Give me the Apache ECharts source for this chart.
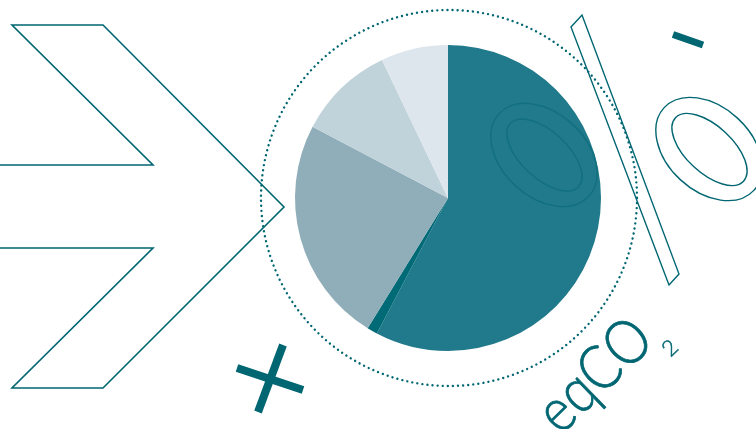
<!DOCTYPE html>
<html>
<head>
<meta charset="utf-8">
<script src="https://cdn.jsdelivr.net/npm/echarts@6/dist/echarts.min.js"></script>
<style>
  html, body { margin: 0; padding: 0; background: #ffffff; }
  #chart { width: 756px; height: 429px; }
</style>
</head>
<body>
<div id="chart"></div>
<script>
// Data (shares in %, clockwise from 12 o'clock)
var categories = ['Part 1', 'Part 2', 'Part 3', 'Part 4', 'Part 5'];
var shareValues = [57.7, 1.1, 23.9, 10.2, 7.1];
var textMain = 'eqCO';
var textSub = '2';

var palette = ['#217a8b', '#006a77', '#90aeb9', '#c1d3da', '#dde6ec'];
var ink = '#006672';

var pieData = categories.map(function (c, i) {
  return { name: c, value: shareValues[i], itemStyle: { color: palette[i] } };
});

var chart = echarts.init(document.getElementById('chart'), null, { renderer: 'canvas' });

var option = {
  backgroundColor: '#ffffff',
  animation: false,
  series: [{
    type: 'pie',
    center: [448, 198],
    radius: 153,
    startAngle: 90,
    clockwise: true,
    label: { show: false },
    labelLine: { show: false },
    emphasis: { disabled: true },
    silent: true,
    itemStyle: { borderWidth: 0 },
    data: pieData
  }],
  graphic: [
    // dotted ring
    { type: 'circle', shape: { cx: 449, cy: 198, r: 188 }, z: 1,
      style: { fill: 'none', stroke: ink, lineWidth: 2.4, lineDash: [0.01, 5.1], lineCap: 'round' } },
    // chevron outline
    { type: 'polyline', z: 5,
      shape: { points: [[0,165],[153,165],[12,25],[103,25],[284,207],[103,388],[12,388],[153,248],[0,248]] },
      style: { fill: 'none', stroke: ink, lineWidth: 1.6, lineJoin: 'miter' } },
    // plus sign (tilted)
    { type: 'line', z: 5, shape: { x1: 237, y1: 368, x2: 303, y2: 390 },
      style: { stroke: ink, lineWidth: 8, lineCap: 'butt' } },
    { type: 'line', z: 5, shape: { x1: 283, y1: 345, x2: 258, y2: 412 },
      style: { stroke: ink, lineWidth: 8, lineCap: 'butt' } },
    // minus sign
    { type: 'line', z: 5, shape: { x1: 673, y1: 34.5, x2: 703, y2: 45 },
      style: { stroke: ink, lineWidth: 7, lineCap: 'butt' } },
    // percent slash
    { type: 'polygon', z: 5,
      shape: { points: [[571,27],[582,15],[679,274],[669,285]] },
      style: { fill: 'none', stroke: ink, lineWidth: 1.4 } },
    // ellipses on the pie
    { type: 'ellipse', z: 10, x: 544, y: 155, rotation: -0.745,
      shape: { cx: 0, cy: 0, rx: 61, ry: 42 },
      style: { fill: 'none', stroke: '#12707e', lineWidth: 1.5 } },
    { type: 'ellipse', z: 10, x: 544.5, y: 155, rotation: -0.75,
      shape: { cx: 0, cy: 0, rx: 46.5, ry: 23.3 },
      style: { fill: 'none', stroke: '#12707e', lineWidth: 1.5 } },
    // ellipses on the right
    { type: 'ellipse', z: 10, x: 709, y: 149, rotation: -0.745,
      shape: { cx: 0, cy: 0, rx: 61, ry: 42 },
      style: { fill: 'none', stroke: ink, lineWidth: 1.4 } },
    { type: 'ellipse', z: 10, x: 709.5, y: 149.5, rotation: -0.75,
      shape: { cx: 0, cy: 0, rx: 46.5, ry: 23.3 },
      style: { fill: 'none', stroke: ink, lineWidth: 1.4 } },
    // eqCO2 text
    { type: 'group', x: 627, y: 344, rotation: 0.77, z: 10,
      children: [
        { type: 'text', x: 22, y: 0, scaleX: 0.95, scaleY: 1.1,
          style: { text: textMain, fill: ink, stroke: ink, lineWidth: 0.7,
                   font: '300 56px Lato, "Open Sans", sans-serif',
                   textAlign: 'right', textVerticalAlign: 'middle' } },
        { type: 'text', x: 28, y: 33,
          style: { text: textSub, fill: ink, stroke: ink, lineWidth: 0.5,
                   font: '300 22px Lato, "Open Sans", sans-serif',
                   textAlign: 'center', textVerticalAlign: 'middle' } }
      ] }
  ]
};

chart.setOption(option);
</script>
</body>
</html>
